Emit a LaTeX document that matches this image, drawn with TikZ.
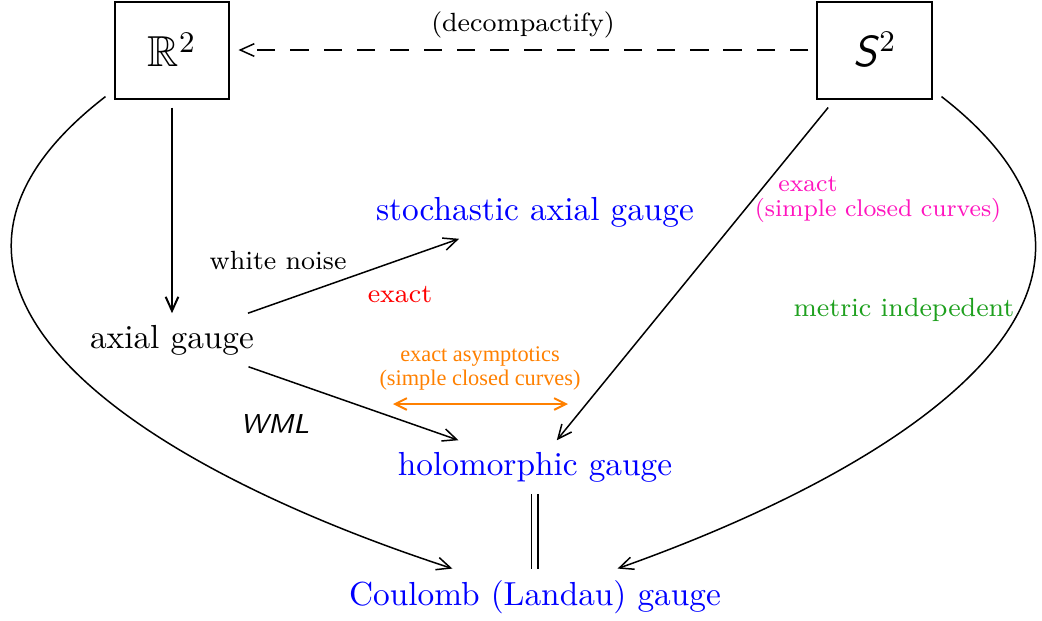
\documentclass[tikz,border=0pt]{standalone}
\usepackage{amssymb}
\usepackage{fontspec}
\usetikzlibrary{arrows.meta}
\newfontfamily\orfont{Liberation Serif}
\definecolor{myblue}{RGB}{0,0,255}
\definecolor{mypink}{RGB}{255,20,190}
\definecolor{mygreen}{RGB}{30,160,30}
\definecolor{myorange}{RGB}{255,128,0}
\newcommand{\pinktxt}[1]{\scalebox{0.92}{#1}}
\begin{document}
\begin{tikzpicture}[x=0.3pt,y=-0.3pt,
  box/.style={draw,line width=0.6pt,minimum width=34.5pt,minimum height=29.1pt,outer sep=2.7pt,font=\fontsize{13}{15}\selectfont},
  main/.style={font=\fontsize{10}{12}\selectfont},
  bluelbl/.style={main,text=myblue},
  lbl/.style={font=\fontsize{7.9}{9}\selectfont},
  pinklbl/.style={lbl,text=mypink},
  arr/.style={-{Straight Barb[length=4.2pt,width=3.8pt]},line width=0.45pt}]
\useasboundingbox (0,0) rectangle (1042,620);
\node[box] (r2) at (172,50) {$\mathbb{R}^2$};
\node[box] (s2) at (875,50) {\textsf{\textit{S}}$^2$};
\node[main] (axial) at (172,340) {axial gauge};
\node[bluelbl] (stoch) at (535,212) {stochastic axial gauge};
\node[bluelbl] (holo) at (535,467) {holomorphic gauge};
\node[bluelbl] (coul) at (535,597) {Coulomb (Landau) gauge};

\draw[arr,dash pattern=on 5.5pt off 4.5pt] (s2) -- (r2);
\node[lbl] (dec) at (523,25) {(decompactify)};
\draw[arr,line width=0.6pt] (r2) -- (axial);
\draw[arr] (axial) -- (stoch);
\draw[arr] (axial) -- (holo);
\draw[arr] (s2) -- (holo);
\draw[double,double distance=1.5pt,line width=0.45pt] (holo) -- (coul);
\draw[arr] (r2.215) .. controls (-145,290) and (150,470) .. (coul.161);
\draw[arr] (s2.325) .. controls (1191,290) and (896,470) .. (coul.19);

\node[lbl] (wn) at (278,260) {white noise};
\node[lbl,text=red] (ex1) at (400,295) {exact};
\node[font=\fontsize{8.2}{10}\sffamily\itshape] (wml) at (275,424) {WML};
\node[pinklbl] (ex2) at (808,184) {\pinktxt{exact}};
\node[pinklbl] (scc) at (878,210) {\pinktxt{(simple closed curves)}};
\node[lbl,text=mygreen] (mi) at (904,310) {metric indepedent};
\node[font=\orfont\fontsize{6.7}{7.2}\selectfont,text=myorange,align=center] (asy) at (480,368) {exact asymptotics\\(simple closed curves)};
\coordinate (oa) at (393,404);
\coordinate (ob) at (568,404);
\draw[{Straight Barb[length=3.5pt,width=3.5pt]}-{Straight Barb[length=3.5pt,width=3.5pt]},myorange,line width=0.6pt] (oa) -- (ob);
\end{tikzpicture}
\end{document}
